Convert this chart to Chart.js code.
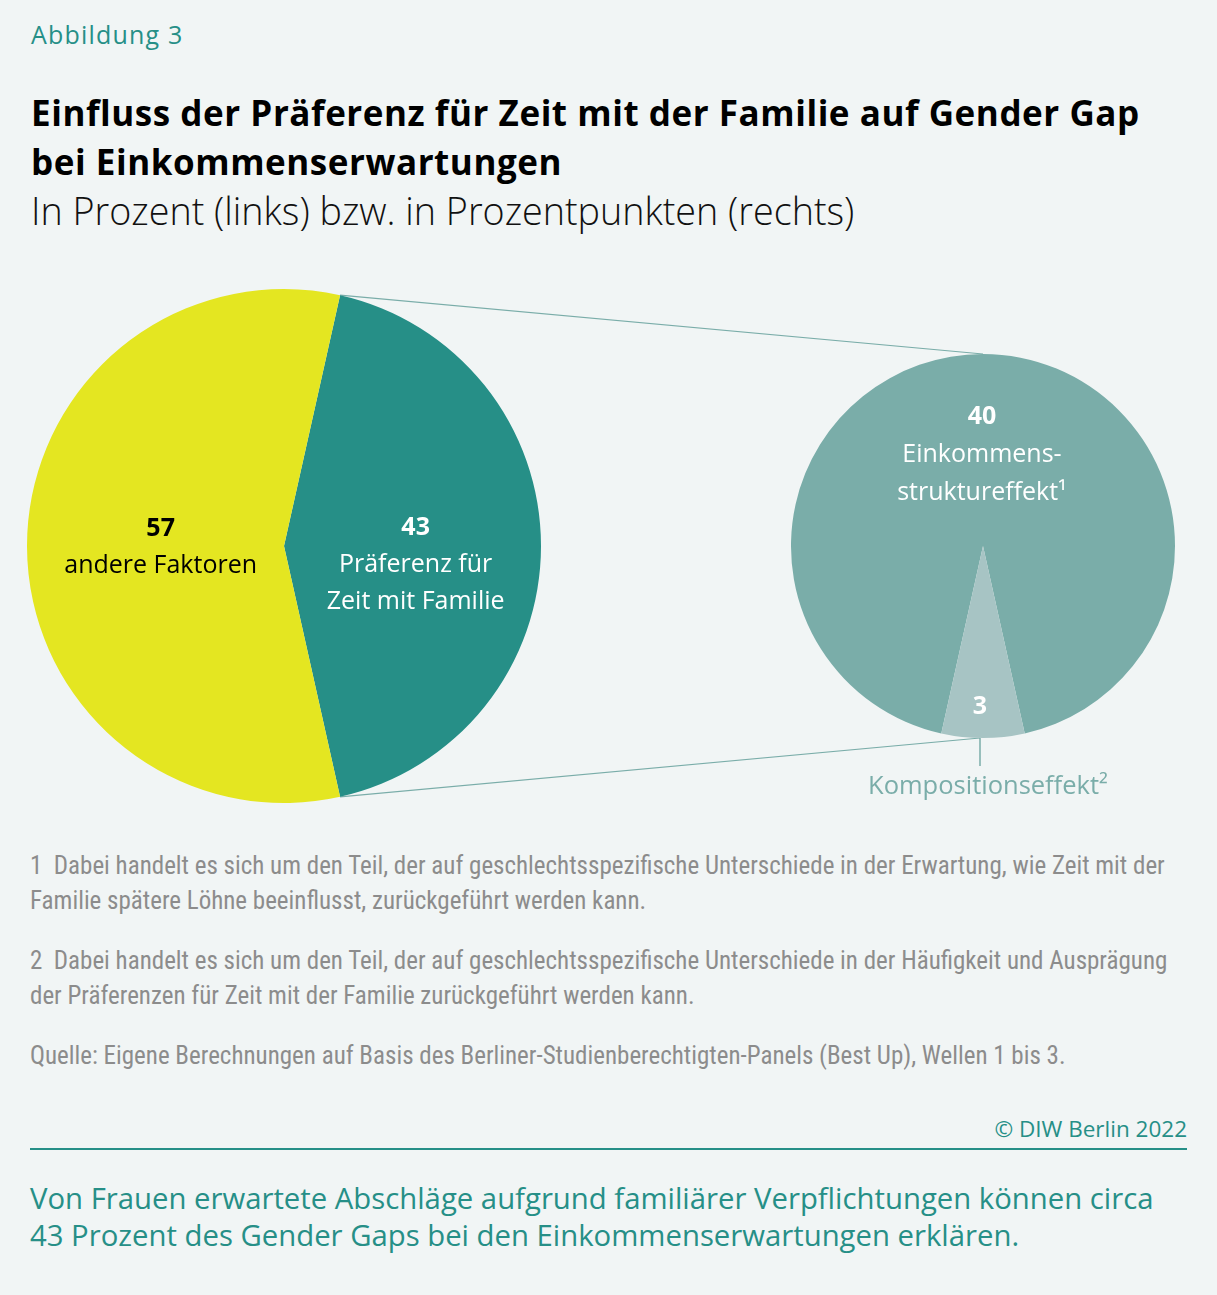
<!DOCTYPE html>
<html lang="de">
<head>
<meta charset="utf-8">
<title>Abbildung 3</title>
<script src="https://cdn.jsdelivr.net/npm/chart.js@4"></script>
<style>
  body { margin: 0; background: #f1f5f5; width: 1217px; height: 1295px; overflow: hidden; position: relative; font-family: "Open Sans", sans-serif; }
  .txt { position: absolute; white-space: nowrap; }
  #kicker { left: 31px; top: 17px; font-size: 25px; color: #268f87; letter-spacing: 1.2px; }
  #title { left: 31px; top: 88px; font-size: 35px; font-weight: 700; line-height: 49px; color: #000; letter-spacing: 0.55px; }
  #subtitle { left: 31px; top: 185px; font-size: 37.7px; font-weight: 300; color: #111; }
  .note { left: 30px; font-family: "Liberation Sans Narrow", "Roboto Condensed", sans-serif; font-size: 25px; color: #8c8c8c; line-height: 35px; }
  #copy { right: 30px; top: 1113px; font-size: 22.5px; color: #268f87; }
  #rule { position: absolute; left: 30px; top: 1148px; width: 1157px; height: 2px; background: #268f87; }
  #summary { left: 30px; top: 1180px; font-size: 29.3px; color: #268f87; line-height: 37px; }
  canvas { position: absolute; }
</style>
</head>
<body>
<div class="txt" id="kicker">Abbildung 3</div>
<div class="txt" id="title">Einfluss der Präferenz für Zeit mit der Familie auf Gender Gap<br>bei Einkommenserwartungen</div>
<div class="txt" id="subtitle">In Prozent (links) bzw. in Prozentpunkten (rechts)</div>

<canvas id="connector_canvas" width="1217" height="560" style="left:0;top:270px;"></canvas>
<div style="position:absolute;left:27px;top:289px;width:514px;height:514px;"><canvas id="left_pie_canvas"></canvas></div>
<div style="position:absolute;left:791px;top:354px;width:384px;height:384px;"><canvas id="right_pie_canvas"></canvas></div>

<div class="txt note" style="top:848px;">1&nbsp; Dabei handelt es sich um den Teil, der auf geschlechtsspezifische Unterschiede in der Erwartung, wie Zeit mit der<br>Familie spätere Löhne beeinflusst, zurückgeführt werden kann.</div>
<div class="txt note" style="top:943px;">2&nbsp; Dabei handelt es sich um den Teil, der auf geschlechtsspezifische Unterschiede in der Häufigkeit und Ausprägung<br>der Präferenzen für Zeit mit der Familie zurückgeführt werden kann.</div>
<div class="txt note" style="top:1038px;">Quelle: Eigene Berechnungen auf Basis des Berliner-Studienberechtigten-Panels (Best Up), Wellen 1 bis 3.</div>
<div class="txt" id="copy">© DIW Berlin 2022</div>
<div id="rule"></div>
<div class="txt" id="summary">Von Frauen erwartete Abschläge aufgrund familiärer Verpflichtungen können circa<br>43 Prozent des Gender Gaps bei den Einkommenserwartungen erklären.</div>

<script>
/*----- DATA -----*/
// left pie: share of the gender gap, in percent
var left_labels = ['Präferenz für Zeit mit Familie', 'andere Faktoren'];
var left_values = [43, 57];
var left_texts = [['43', 'Präferenz für', 'Zeit mit Familie'], ['57', 'andere Faktoren']];

// right pie: split of the 43 points, in percentage points
var right_labels = ['Einkommensstruktureffekt', 'Kompositionseffekt'];
var right_values = [40, 3];
var right_texts = [['40', 'Einkommens-', 'struktureffekt¹'], ['3']];

var COL_YELLOW = '#e4e621';
var COL_TEAL = '#268f87';
var COL_MID = '#7aada9';
var COL_LIGHT = '#a7c4c4';

// draws the multiline labels inside each slice
var slice_labels = {
    id: 'slice_labels',
    afterDatasetsDraw: function (chart, args, opts) {
        var ctx = chart.ctx;
        var arcs = chart.getDatasetMeta(0).data;
        arcs.forEach(function (arc, i) {
            var p = arc.getProps(['x', 'y', 'startAngle', 'endAngle', 'outerRadius']);
            var mid = (p.startAngle + p.endAngle) / 2;
            var d = p.outerRadius * opts.dist[i];
            var cx = p.x + Math.cos(mid) * d + opts.dx[i];
            var cy = p.y + Math.sin(mid) * d;
            var lines = opts.texts[i];
            var lh = opts.lineHeight;
            var y0 = cy - (lines.length - 1) * lh / 2 + opts.dy[i];
            ctx.save();
            ctx.fillStyle = opts.colors[i];
            ctx.textAlign = 'center';
            ctx.textBaseline = 'middle';
            lines.forEach(function (line, k) {
                ctx.font = (k === 0 ? '700 ' : '400 ') + '25px "Open Sans", sans-serif';
                ctx.fillText(line, cx, y0 + k * lh);
            });
            ctx.restore();
        });
    }
};

function make_pie(id, labels, values, colors, rotation, label_opts) {
    var context = document.getElementById(id).getContext('2d');
    return new Chart(context, {
        type: 'pie',
        data: {
            labels: labels,
            datasets: [{
                data: values,
                backgroundColor: colors,
                borderWidth: 0
            }]
        },
        options: {
            responsive: true,
            maintainAspectRatio: false,
            animation: false,
            rotation: rotation,
            layout: { padding: 0 },
            plugins: {
                legend: { display: false },
                tooltip: { enabled: false },
                slice_labels: label_opts
            }
        },
        plugins: [slice_labels]
    });
}

// left pie: teal slice centred on the right-hand side
var left_rot = 90 - left_values[0] / (left_values[0] + left_values[1]) * 180;
var left_chart = make_pie('left_pie_canvas', left_labels, left_values, [COL_TEAL, COL_YELLOW], left_rot, {
    texts: left_texts, dist: [0.52, 0.48], dx: [-2, 0], dy: [19, 1], colors: ['#ffffff', '#000000'], lineHeight: 37
});

// right pie: small slice centred at the bottom
var right_total = right_values[0] + right_values[1];
var right_rot = 180 + right_values[1] / right_total * 180;
var right_chart = make_pie('right_pie_canvas', right_labels, right_values, [COL_MID, COL_LIGHT], right_rot, {
    texts: right_texts, dist: [0.48, 0.84], dx: [-1, -3], dy: [1, 0], colors: ['#ffffff', '#ffffff'], lineHeight: 38
});

// connector lines between the two pies, plus the label below the small slice
function draw_connectors() {
    var cv = document.getElementById('connector_canvas');
    var ctx = cv.getContext('2d');
    var off_y = 270;
    var la = left_chart.getDatasetMeta(0).data[0];
    var lp = la.getProps(['x', 'y', 'startAngle', 'endAngle', 'outerRadius']);
    var lx0 = 27, ly0 = 289;
    var ra = right_chart.getDatasetMeta(0).data[1];
    var rp = ra.getProps(['x', 'y', 'outerRadius']);
    var rx0 = 791, ry0 = 354;

    var a1 = [lx0 + lp.x + Math.cos(lp.startAngle) * lp.outerRadius, ly0 + lp.y + Math.sin(lp.startAngle) * lp.outerRadius];
    var a2 = [lx0 + lp.x + Math.cos(lp.endAngle) * lp.outerRadius, ly0 + lp.y + Math.sin(lp.endAngle) * lp.outerRadius];
    var b1 = [rx0 + rp.x, ry0 + rp.y - rp.outerRadius];
    var b2 = [rx0 + rp.x - 3, ry0 + rp.y + rp.outerRadius];

    ctx.strokeStyle = COL_MID;
    ctx.lineWidth = 1.2;
    ctx.beginPath();
    ctx.moveTo(a1[0], a1[1] - off_y);
    ctx.lineTo(b1[0], b1[1] - off_y);
    ctx.moveTo(a2[0], a2[1] - off_y);
    ctx.lineTo(b2[0], b2[1] - off_y);
    ctx.stroke();

    // leader line to the small slice label
    ctx.lineWidth = 1.5;
    ctx.beginPath();
    ctx.moveTo(b2[0], b2[1] - off_y);
    ctx.lineTo(b2[0], b2[1] + 28 - off_y);
    ctx.stroke();

    ctx.fillStyle = COL_MID;
    ctx.font = '400 25.5px "Open Sans", sans-serif';
    ctx.textAlign = 'center';
    ctx.textBaseline = 'middle';
    ctx.fillText('Kompositionseffekt²', b2[0] + 8, b2[1] + 49 - off_y);
}
draw_connectors();
</script>
</body>
</html>
